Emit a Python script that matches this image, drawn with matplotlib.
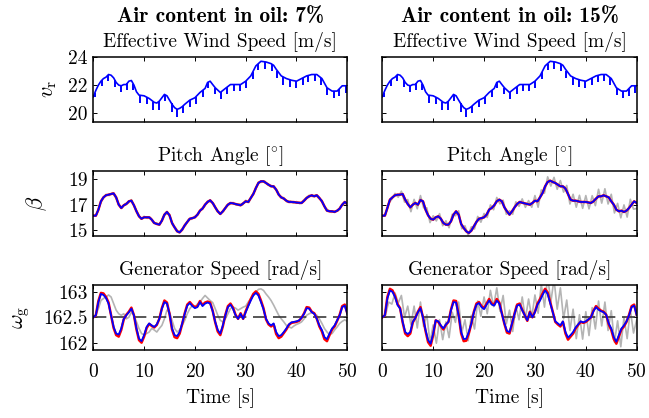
import numpy as np
import matplotlib
matplotlib.use("Agg")
import matplotlib.pyplot as plt

plt.rcParams['font.family'] = ['cmr10', 'DejaVu Sans']
plt.rcParams['mathtext.fontset'] = 'cm'
plt.rcParams['axes.formatter.use_mathtext'] = True
plt.rcParams['font.size'] = 14

col_titles = ["Air content in oil: 7%", "Air content in oil: 15%"]
row_titles = ["Effective Wind Speed [m/s]", r"Pitch Angle $[^{\circ}]$", "Generator Speed [rad/s]"]
row_ylabels = [r"$v_\mathrm{r}$", r"$\beta$", r"$\omega_\mathrm{g}$"]
row_yticks = [[20, 22, 24], [15, 17, 19], [162, 162.5, 163]]
row_yticklabels = [["20", "22", "24"], ["15", "17", "19"], ["162", "162.5", "163"]]
row_ylims = [(19.35, 24.02), (14.53, 19.65), (161.85, 163.13)]
xticks = [0, 10, 20, 30, 40, 50]
gen_rated = 162.5

# time base for sampled series (0.5 s) and for the fast grey oscillation (0.625 s)
t_half = np.arange(0, 50.01, 0.5)
t_osc = np.arange(0, 50.01, 0.625)

# effective wind speed (same input for both cases)
wind_t = [0, 0.5, 1, 1.5, 2, 2.5, 3, 3.5, 4, 4.5, 5, 5.5, 6, 6.5, 7, 7.5, 8, 8.5, 9, 10,
          11, 12, 12.5, 13, 13.5, 14, 14.5, 15, 15.5, 16, 16.5, 17, 17.5, 18, 19, 20, 21,
          22, 22.5, 23, 23.5, 24, 25, 26, 27, 28, 29, 30, 31, 32, 33, 34, 35, 35.5, 36,
          37, 38, 39, 40, 41, 42, 43, 44, 45, 46, 47, 48, 49, 50]
wind_v = [21.14, 21.6, 21.98, 22.26, 22.45, 22.55, 22.74, 22.69, 22.5, 22.17, 21.98, 21.93,
          22.02, 22.02, 22.26, 22.31, 21.98, 21.5, 21.26, 21.21, 21.02, 20.74, 20.69, 20.83,
          21.07, 21.31, 21.21, 20.9, 20.6, 20.36, 20.24, 20.31, 20.43, 20.6, 20.9, 21.07,
          21.45, 21.74, 22.17, 22.26, 22.02, 21.79, 21.45, 21.74, 22.02, 22.02, 22.02, 22.26,
          22.64, 23.36, 23.69, 23.64, 23.52, 23.4, 23.12, 22.64, 22.45, 22.33, 22.26, 22.45,
          22.64, 22.74, 22.74, 22.45, 21.79, 21.55, 21.55, 21.93, 21.93]
spike_t = [0.33, 1.64, 2.95, 4.27, 5.45, 6.69, 7.87, 9.19, 10.5, 11.8, 12.9, 14.1, 15.4,
           16.5, 17.7, 19.0, 20.2, 21.5, 22.6, 23.97, 25.1, 26.4, 27.6, 28.9, 30.1, 31.4,
           32.5, 33.8, 35.1, 36.2, 37.4, 38.7, 39.9, 41.2, 42.3, 43.6, 44.8, 46.1, 47.3,
           48.4, 49.7]
spike_depth = [0.3, 0.4, 0.45, 0.45, 0.45, 0.45, 0.45, 0.55, 0.5, 0.6, 0.6, 0.45, 0.6, 0.55,
               0.5, 0.5, 0.5, 0.5, 0.45, 0.45, 0.5, 0.5, 0.5, 0.5, 0.5, 0.5, 0.45, 0.5, 0.5,
               0.5, 0.55, 0.55, 0.5, 0.5, 0.5, 0.5, 0.5, 0.5, 0.5, 0.5, 0.5]

# pitch angle
pitch_blue_7 = [16.14, 16.14, 16.6, 17.26, 17.57, 17.73, 17.78, 17.83, 17.88, 17.57, 17.0,
                16.74, 16.95, 17.05, 17.26, 17.31, 16.95, 16.48, 16.09, 15.9, 16.01, 16.01,
                16.01, 15.83, 15.57, 15.49, 15.44, 15.75, 16.22, 16.43, 16.17, 15.57, 15.23,
                14.92, 14.84, 15.05, 15.39, 15.65, 15.9, 15.95, 16.01, 16.22, 16.53, 16.69,
                17.0, 17.21, 17.34, 17.13, 16.79, 16.48, 16.27, 16.48, 16.74, 17.0, 17.13,
                17.1, 17.05, 17.0, 16.95, 17.1, 17.26, 17.21, 17.52, 17.83, 18.3, 18.69,
                18.82, 18.82, 18.69, 18.56, 18.43, 18.43, 18.17, 17.78, 17.57, 17.47, 17.31,
                17.21, 17.21, 17.2, 17.16, 17.15, 17.13, 17.31, 17.52, 17.65, 17.73, 17.65,
                17.73, 17.52, 17.26, 16.87, 16.53, 16.48, 16.48, 16.43, 16.53, 16.69, 17.0,
                17.21, 17.05]
pitch_blue_15 = [16.14, 16.14, 16.74, 17.39, 17.57, 17.73, 17.78, 17.78, 17.83, 17.39, 17.05,
                 16.79, 17.0, 17.13, 17.0, 17.36, 17.26, 16.61, 16.17, 15.9, 15.83, 16.01,
                 16.09, 15.9, 15.57, 15.44, 15.44, 15.7, 16.22, 16.48, 16.22, 15.49, 15.18,
                 14.92, 14.79, 14.97, 15.31, 15.65, 15.9, 15.95, 16.01, 16.22, 16.61, 16.74,
                 16.95, 17.26, 17.39, 17.26, 16.79, 16.48, 16.22, 16.48, 16.79, 17.05, 17.21,
                 17.15, 17.1, 17.05, 17.0, 17.13, 17.31, 17.26, 17.57, 17.91, 18.43, 18.77,
                 18.87, 18.77, 18.69, 18.56, 18.43, 18.43, 18.25, 17.83, 17.39, 17.31, 17.31,
                 17.26, 17.21, 17.21, 17.21, 17.17, 17.13, 17.26, 17.47, 17.65, 17.65, 17.73,
                 17.65, 17.57, 17.26, 17.0, 16.61, 16.48, 16.53, 16.43, 16.53, 16.74, 17.0,
                 17.26, 17.13]
pitch_grey_7 = [16.14, 16.2, 16.95, 17.45, 17.8, 17.71, 17.93, 17.57, 17.08, 16.71, 17.08,
                17.12, 17.39, 16.82, 16.36, 15.87, 16.09, 15.93, 16.0, 15.55, 15.57, 15.44,
                16.06, 16.3, 16.25, 15.4, 15.16, 14.8, 15.13, 15.37, 15.86, 15.86, 16.09,
                16.22, 16.68, 16.84, 17.29, 17.22, 17.04, 16.47, 16.35, 16.47, 16.95, 17.02,
                17.17, 16.96, 17.06, 16.98, 17.34, 17.17, 17.75, 18.1, 18.77, 18.74, 18.84,
                18.51, 18.51, 18.29, 18.06, 17.54, 17.55, 17.21, 17.29, 17.12, 17.24, 17.07,
                17.3, 17.54, 17.73, 17.63, 17.77, 17.49, 17.34, 16.75, 16.58, 16.4, 16.51,
                16.49, 16.93, 17.07, 17.1]
pitch_grey_15 = [16.14, 16.2, 17.1, 17.42, 17.88, 17.58, 18.05, 17.2, 17.4, 16.45, 17.41,
                 16.68, 17.71, 16.75, 16.75, 15.6, 16.13, 15.73, 16.3, 15.35, 15.74, 15.2,
                 16.25, 16.13, 16.52, 15.12, 15.35, 14.62, 15.27, 15.1, 16.08, 15.63, 16.31,
                 16.0, 16.98, 16.6, 17.56, 17.06, 17.35, 16.25, 16.52, 16.25, 17.22, 16.87,
                 17.45, 16.79, 17.32, 16.8, 17.71, 16.8, 18.15, 17.9, 19.17, 18.45, 19.13,
                 18.2, 18.88, 17.98, 18.5, 17.05, 17.81, 16.8, 17.73, 16.71, 17.71, 16.67,
                 17.7, 16.92, 18.2, 17.12, 18.24, 17.05, 17.81, 16.35, 17.1, 15.97, 16.98,
                 16.03, 17.42, 16.65, 16.7]

# generator speed
gen_blue_7 = [162.5, 162.54, 162.8, 162.96, 162.94, 162.88, 162.77, 162.54, 162.31, 162.18,
              162.16, 162.28, 162.47, 162.54, 162.6, 162.67, 162.54, 162.28, 162.08, 162.03,
              162.15, 162.31, 162.38, 162.34, 162.31, 162.36, 162.47, 162.67, 162.8, 162.77,
              162.57, 162.28, 162.15, 162.13, 162.21, 162.38, 162.57, 162.73, 162.78, 162.72,
              162.68, 162.7, 162.8, 162.72, 162.77, 162.79, 162.77, 162.62, 162.41, 162.25,
              162.18, 162.34, 162.54, 162.7, 162.75, 162.67, 162.54, 162.47, 162.57, 162.47,
              162.6, 162.72, 162.83, 162.93, 162.98, 162.93, 162.8, 162.66, 162.47, 162.38,
              162.34, 162.38, 162.21, 162.13, 162.15, 162.21, 162.28, 162.36, 162.4, 162.41,
              162.42, 162.44, 162.49, 162.57, 162.68, 162.67, 162.6, 162.57, 162.47, 162.34,
              162.25, 162.11, 162.07, 162.18, 162.28, 162.34, 162.44, 162.54, 162.7, 162.73,
              162.57]
gen_red_7 = [162.5, 162.54, 162.82, 162.98, 162.97, 162.9, 162.79, 162.54, 162.29, 162.15,
             162.12, 162.25, 162.46, 162.55, 162.61, 162.69, 162.54, 162.26, 162.05, 162.0,
             162.12, 162.29, 162.37, 162.33, 162.3, 162.35, 162.47, 162.68, 162.83, 162.79,
             162.57, 162.26, 162.11, 162.09, 162.18, 162.37, 162.58, 162.75, 162.8, 162.74,
             162.7, 162.72, 162.82, 162.74, 162.79, 162.81, 162.79, 162.63, 162.4, 162.22,
             162.15, 162.32, 162.55, 162.72, 162.77, 162.69, 162.55, 162.47, 162.58, 162.47,
             162.62, 162.74, 162.86, 162.96, 163.01, 162.96, 162.83, 162.68, 162.46, 162.36,
             162.32, 162.36, 162.17, 162.09, 162.12, 162.19, 162.26, 162.35, 162.39, 162.4,
             162.41, 162.43, 162.49, 162.58, 162.7, 162.69, 162.61, 162.58, 162.47, 162.32,
             162.22, 162.07, 162.03, 162.15, 162.26, 162.32, 162.43, 162.55, 162.72, 162.75,
             162.58]
gen_grey_7 = [162.5, 162.55, 162.67, 162.83, 162.87, 162.9, 162.94, 162.9, 162.77, 162.64,
              162.57, 162.54, 162.57, 162.47, 162.5, 162.6, 162.54, 162.41, 162.28, 162.18,
              162.15, 162.18, 162.21, 162.28, 162.25, 162.21, 162.28, 162.34, 162.47, 162.64,
              162.6, 162.44, 162.28, 162.21, 162.25, 162.34, 162.44, 162.57, 162.67, 162.73,
              162.7, 162.76, 162.8, 162.87, 162.93, 162.88, 162.83, 162.79, 162.67, 162.54,
              162.44, 162.41, 162.47, 162.57, 162.67, 162.7, 162.68, 162.64, 162.67, 162.7,
              162.72, 162.8, 162.87, 162.93, 162.99, 163.05, 163.06, 163.03, 162.96, 162.9,
              162.83, 162.74, 162.64, 162.54, 162.47, 162.41, 162.34, 162.31, 162.29, 162.33,
              162.36, 162.38, 162.41, 162.47, 162.54, 162.57, 162.59, 162.57, 162.54, 162.47,
              162.38, 162.28, 162.21, 162.16, 162.18, 162.25, 162.31, 162.38, 162.42, 162.45,
              162.42]
gen_blue_15 = [162.5, 162.54, 162.87, 163.03, 163.0, 162.9, 162.74, 162.67, 162.41, 162.21,
               162.17, 162.21, 162.41, 162.49, 162.6, 162.68, 162.5, 162.25, 162.05, 161.98,
               162.18, 162.44, 162.42, 162.34, 162.28, 162.36, 162.41, 162.64, 162.8, 162.79,
               162.54, 162.21, 162.07, 162.08, 162.21, 162.38, 162.6, 162.75, 162.78, 162.7,
               162.66, 162.75, 162.83, 162.75, 162.73, 162.83, 162.77, 162.57, 162.38, 162.23,
               162.21, 162.38, 162.57, 162.73, 162.75, 162.64, 162.54, 162.44, 162.6, 162.5,
               162.6, 162.75, 162.83, 162.94, 163.03, 162.96, 162.78, 162.6, 162.42, 162.38,
               162.34, 162.42, 162.21, 162.1, 162.15, 162.21, 162.3, 162.36, 162.42, 162.4,
               162.42, 162.46, 162.5, 162.62, 162.7, 162.65, 162.62, 162.6, 162.55, 162.38,
               162.28, 162.11, 162.02, 162.15, 162.28, 162.34, 162.42, 162.54, 162.7, 162.73,
               162.54]
gen_red_15 = [162.5, 162.54, 162.9, 163.06, 163.03, 162.92, 162.76, 162.68, 162.4, 162.18,
              162.13, 162.18, 162.4, 162.49, 162.61, 162.7, 162.5, 162.23, 162.01, 161.94,
              162.15, 162.44, 162.41, 162.33, 162.26, 162.35, 162.41, 162.65, 162.83, 162.82,
              162.54, 162.18, 162.03, 162.04, 162.18, 162.37, 162.61, 162.77, 162.8, 162.72,
              162.68, 162.77, 162.86, 162.77, 162.75, 162.86, 162.79, 162.58, 162.37, 162.2,
              162.18, 162.37, 162.58, 162.75, 162.77, 162.65, 162.54, 162.43, 162.61, 162.5,
              162.61, 162.77, 162.86, 162.97, 163.06, 162.99, 162.8, 162.61, 162.41, 162.36,
              162.32, 162.41, 162.18, 162.06, 162.12, 162.18, 162.28, 162.35, 162.41, 162.39,
              162.41, 162.45, 162.5, 162.63, 162.72, 162.67, 162.63, 162.61, 162.55, 162.36,
              162.25, 162.07, 161.98, 162.12, 162.26, 162.32, 162.41, 162.55, 162.72, 162.75,
              162.55]
gen_grey_15 = [162.5, 162.54, 162.8, 162.76, 162.98, 162.78, 162.93, 162.5, 162.72, 162.35,
               162.72, 162.29, 162.8, 162.32, 162.55, 162.0, 162.35, 161.99, 162.45, 162.06,
               162.41, 162.1, 162.6, 162.4, 162.8, 162.2, 162.45, 162.04, 162.54, 162.27,
               162.82, 162.52, 162.9, 162.57, 163.03, 162.71, 163.08, 162.62, 162.93, 162.37,
               162.64, 162.22, 162.72, 162.45, 162.9, 162.47, 162.86, 162.5, 162.94, 162.58,
               163.15, 162.7, 163.3, 162.8, 163.25, 162.66, 163.08, 162.47, 162.84, 162.24,
               162.66, 162.08, 162.55, 162.07, 162.61, 162.14, 162.69, 162.27, 162.82, 162.33,
               162.8, 162.24, 162.63, 162.01, 162.43, 161.92, 162.5, 162.08, 162.65, 162.19,
               162.45]

cases = [
    dict(pitch=(pitch_grey_7, pitch_blue_7, pitch_blue_7), gen=(gen_grey_7, gen_red_7, gen_blue_7),
         grey_t=(t_osc, t_half)),
    dict(pitch=(pitch_grey_15, pitch_blue_15, pitch_blue_15), gen=(gen_grey_15, gen_red_15, gen_blue_15),
         grey_t=(t_osc, t_osc)),
]

fig = plt.figure(figsize=(6.49, 4.18), dpi=100)
W, H = 649.0, 418.0
col_x = [93.3, 382.3]
col_w = [254.0, 254.4]
row_top = [56.7, 170.7, 285.3]
row_h = [65.0, 65.6, 65.0]
ylabel_x = [-0.135, -0.174, -0.24]

for c in range(2):
    case = cases[c]
    for r in range(3):
        ax = fig.add_axes([col_x[c] / W, 1 - (row_top[r] + row_h[r]) / H, col_w[c] / W, row_h[r] / H])
        if r == 0:
            ax.plot(wind_t, wind_v, color='#0000ff', lw=1.2)
            tops = np.interp(spike_t, wind_t, wind_v)
            ax.vlines(spike_t, tops - np.array(spike_depth), tops, color='#0000ff', lw=1.4)
        else:
            grey, red, blue = case['pitch'] if r == 1 else case['gen']
            gt = case['grey_t'][r - 1]
            ax.plot(gt, grey, color='#b4b4b4', lw=1.2)
            if r == 2:
                ax.axhline(gen_rated, color='#3a3a3a', lw=1.2, dashes=(8, 4))
            ax.plot(t_half, red, color='#ff0000', lw=1.8)
            ax.plot(t_half, blue, color='#0000ff', lw=1.3)

        ax.set_xlim(0, 50)
        ax.set_ylim(*row_ylims[r])
        ax.set_xticks(xticks)
        ax.set_yticks(row_yticks[r])
        ax.tick_params(direction='in', top=True, right=True, length=3, width=0.7, labelsize=14)
        ax.tick_params(axis='y', pad=4)
        ax.tick_params(axis='x', pad=9)
        for sp in ax.spines.values():
            sp.set_linewidth(1.1)
        if c == 0:
            ax.set_yticklabels(row_yticklabels[r])
            ax.set_ylabel(row_ylabels[r], fontsize=16)
            ax.yaxis.set_label_coords(ylabel_x[r], 0.5)
        else:
            ax.set_yticklabels([])
        if r == 2:
            ax.set_xlabel("Time [s]", fontsize=14, labelpad=5)
        else:
            ax.set_xticklabels([])
        ax.text(0.5, 1.0 + 15.0 / row_h[r], row_titles[r], transform=ax.transAxes,
                ha='center', va='center', fontsize=14)
        if r == 0:
            ax.text(0.5, 1.0 + 40.0 / row_h[r], col_titles[c], transform=ax.transAxes,
                    ha='center', va='center', fontsize=15.5, family='cmb10')

fig.savefig("out.png", dpi=100)
